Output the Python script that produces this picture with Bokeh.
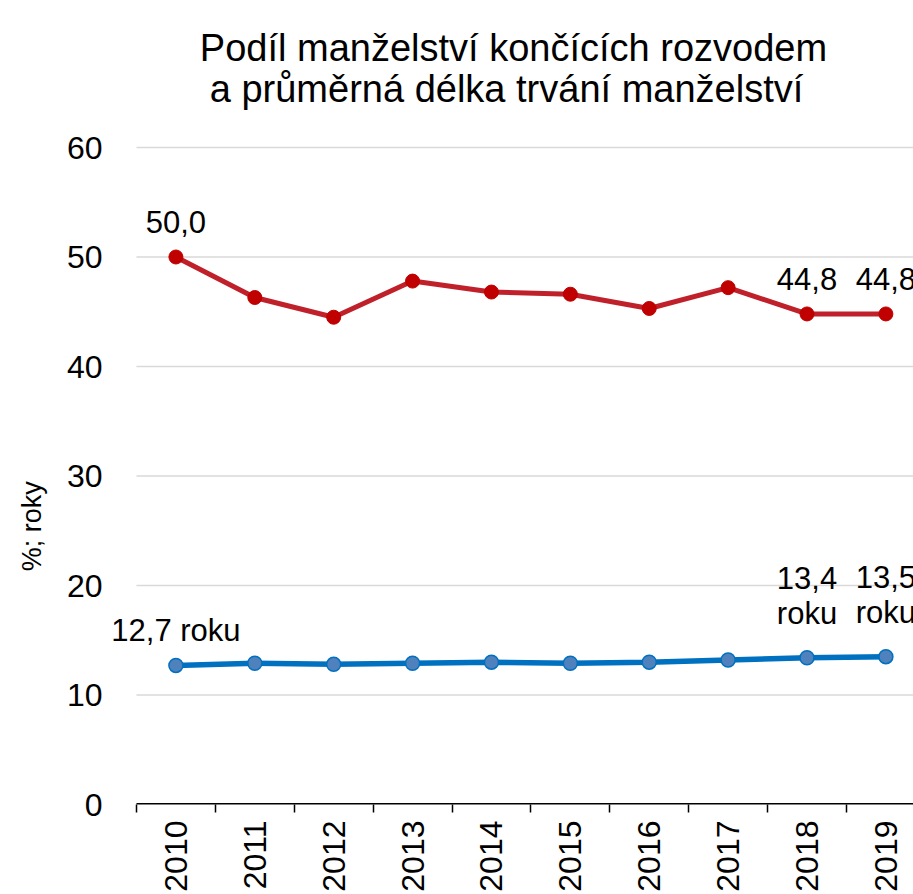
import math
from bokeh.plotting import figure
from bokeh.models import FixedTicker, Range1d, ColumnDataSource, LabelSet, Label
from bokeh.core.properties import value
from bokeh.embed import file_html
from bokeh.resources import INLINE

years = [2010, 2011, 2012, 2013, 2014, 2015, 2016, 2017, 2018, 2019]
divorce_share = [50.0, 46.3, 44.5, 47.8, 46.8, 46.6, 45.3, 47.2, 44.8, 44.8]
duration = [12.7, 12.9, 12.8, 12.9, 13.0, 12.9, 13.0, 13.2, 13.4, 13.5]
y_ticks = [0, 10, 20, 30, 40, 50, 60]
title_line1 = "Podíl manželství končících rozvodem"
title_line2 = "a průměrná délka trvání manželství"
y_label = "%; roky"

def fmt(v):
    return f"{v:.1f}".replace(".", ",")

FONT = "Liberation Sans"
RED_LINE = "#C0202A"
RED_MARK = "#C00000"
BLUE_LINE = "#0070C0"
BLUE_MARK = "#4F81BD"
GRID = "#D9D9D9"

# layout (pixels)
W, H = 913, 894
LEFT, BOTTOM = 100, 90
VALUE_AXIS_PX = 657          # height of the 0..60 value span
TOP_SPACE = 147              # room above the 60 gridline for the title

# plot area: the category band starts half a year before the first year;
# the frame reaches a bit further left so the first data label is not cut,
# and up to the top so the title can sit inside it.
band_start = years[0] - 0.5
x_end = years[-1] + 0.35
y_top = y_ticks[-1] + TOP_SPACE * (y_ticks[-1] - y_ticks[0]) / VALUE_AXIS_PX

p = figure(width=W, height=H, output_backend="svg", toolbar_location=None,
           x_range=Range1d(band_start - 0.456, x_end),
           y_range=Range1d(y_ticks[0], y_top),
           min_border_left=LEFT, min_border_right=0, min_border_top=0,
           min_border_bottom=BOTTOM)
p.outline_line_color = None
p.background_fill_color = "white"
p.border_fill_color = "white"

# title, two centred lines
frame_h = H - BOTTOM
for txt, cx, base in ((title_line1, 413, 47), (title_line2, 406, 88)):
    p.add_layout(Label(x=cx, y=frame_h - base, x_units="screen", y_units="screen",
                       text=txt, text_font=FONT, text_font_size="38px",
                       text_color="black", text_align="center",
                       text_baseline="alphabetic"))

# axes
p.xaxis.ticker = FixedTicker(ticks=years, minor_ticks=[y - 0.5 for y in years] + [years[-1] + 0.5])
p.xaxis.major_label_orientation = math.pi / 2
p.xaxis.major_tick_out = 0
p.xaxis.major_tick_in = 0
p.xaxis.minor_tick_out = 8
p.xaxis.minor_tick_in = 0
p.xaxis.minor_tick_line_color = "black"
p.xaxis.minor_tick_line_width = 1.5
p.xaxis.axis_line_color = None
p.xaxis.major_label_text_font = FONT
p.xaxis.major_label_text_font_size = "32px"
p.xaxis.major_label_text_color = "black"
p.xaxis.major_label_standoff = 8

p.yaxis.ticker = FixedTicker(ticks=y_ticks)
p.yaxis.axis_line_color = None
p.yaxis.major_tick_line_color = None
p.yaxis.minor_tick_line_color = None
p.yaxis.major_label_text_font = FONT
p.yaxis.major_label_text_font_size = "32px"
p.yaxis.major_label_text_color = "black"
p.yaxis.major_label_standoff = -8
# trailing non-breaking spaces push the visible text lower, as in the reference
p.yaxis.axis_label = y_label + "\u00a0" * 33
p.yaxis.axis_label_text_font = FONT
p.yaxis.axis_label_text_font_size = "27px"
p.yaxis.axis_label_text_font_style = "normal"
p.yaxis.axis_label_text_color = "black"
p.yaxis.axis_label_standoff = 17

p.xgrid.grid_line_color = None
p.ygrid.grid_line_color = None

# horizontal gridlines and the category axis line, starting at the category band
grid_vals = [v for v in y_ticks if v > y_ticks[0]]
p.segment(x0=[band_start] * len(grid_vals), x1=[x_end] * len(grid_vals),
          y0=grid_vals, y1=grid_vals, line_color=GRID, line_width=1.5)
p.segment(x0=[band_start], x1=[x_end], y0=[y_ticks[0]], y1=[y_ticks[0]],
          line_color="black", line_width=3)

src = ColumnDataSource(dict(x=years, red=divorce_share, blue=duration))

p.line("x", "red", source=src, line_color=RED_LINE, line_width=5)
p.scatter("x", "red", source=src, size=14, fill_color=RED_MARK, line_color=RED_MARK)
p.line("x", "blue", source=src, line_color=BLUE_LINE, line_width=5.5)
p.scatter("x", "blue", source=src, size=14, fill_color=BLUE_MARK, line_color=BLUE_LINE, line_width=1.5)

# data labels
red_idx = [0, 8, 9]
red_src = ColumnDataSource(dict(x=[years[i] for i in red_idx],
                                y=[divorce_share[i] for i in red_idx],
                                t=[fmt(divorce_share[i]) for i in red_idx]))
p.add_layout(LabelSet(x="x", y="y", text="t", source=red_src, text_font=value(FONT),
                      text_font_size="31px", text_color="black", text_align="center",
                      text_baseline="bottom", y_offset=24))

b0_src = ColumnDataSource(dict(x=[years[0]], y=[duration[0]], t=[fmt(duration[0]) + " roku"]))
p.add_layout(LabelSet(x="x", y="y", text="t", source=b0_src, text_font=value(FONT),
                      text_font_size="31px", text_color="black", text_align="center",
                      text_baseline="bottom", y_offset=17))

blue_idx = [8, 9]
b_src = ColumnDataSource(dict(x=[years[i] for i in blue_idx],
                              y=[duration[i] for i in blue_idx],
                              t=[fmt(duration[i]) + "\nroku" for i in blue_idx]))
p.add_layout(LabelSet(x="x", y="y", text="t", source=b_src, text_font=value(FONT),
                      text_font_size="31px", text_color="black", text_align="center",
                      text_baseline="bottom", y_offset=27, text_line_height=1.0))

open("out.html", "w").write(file_html(p, INLINE))
